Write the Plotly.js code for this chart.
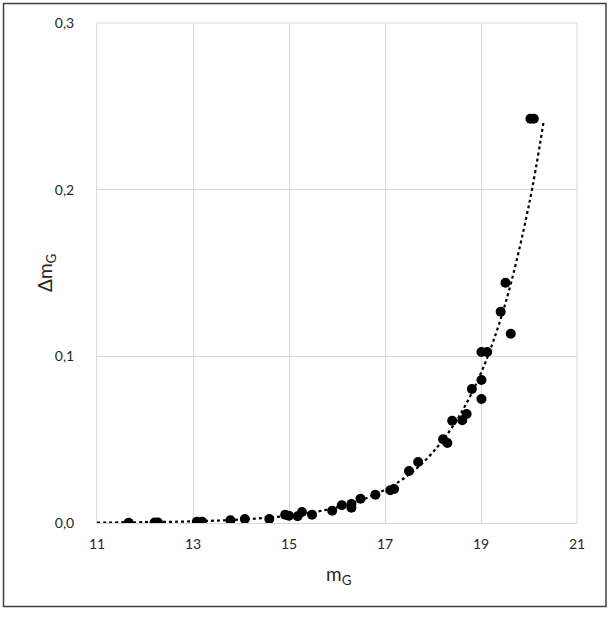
<!DOCTYPE html>
<html>
<head>
<meta charset="utf-8">
<script src="https://cdn.plot.ly/plotly-3.0.1.min.js"></script>
<style>html,body{margin:0;padding:0;background:#fff;}#chart{width:612px;height:617px;}</style>
</head>
<body>
<div id="chart"></div>
<script>
// Observed points (m_G, Δm_G)
const mG = [11.66, 12.2, 12.27, 13.08, 13.19, 13.78, 14.08, 14.59, 14.92, 15.0, 15.18, 15.27, 15.48, 15.9, 16.1, 16.3, 16.3, 16.49, 16.8, 17.11, 17.19, 17.5, 17.69, 18.21, 18.3, 18.4, 18.61, 18.7, 18.81, 19.01, 19.01, 19.01, 19.13, 19.41, 19.51, 19.62, 20.03, 20.1];
const dmG = [0.0001, 0.0003, 0.0003, 0.0008, 0.0008, 0.0016, 0.0024, 0.0024, 0.005, 0.0044, 0.004, 0.0066, 0.005, 0.0074, 0.0106, 0.0114, 0.0092, 0.0146, 0.017, 0.0196, 0.0204, 0.0312, 0.0366, 0.0502, 0.048, 0.0614, 0.0616, 0.0654, 0.0804, 0.0858, 0.0744, 0.1026, 0.1026, 0.1268, 0.1442, 0.1136, 0.2425, 0.2425];

// Trend line values
const trendX = [11, 12, 13, 14, 15, 15.5, 16, 16.5, 17, 17.5, 18, 18.5, 19, 19.5, 20, 20.3];
const trendY = [0.0002, 0.0005, 0.001, 0.0021, 0.0044, 0.0064, 0.0094, 0.0137, 0.02, 0.029, 0.0425, 0.062, 0.090, 0.131, 0.191, 0.240];

const xTicks = [11, 13, 15, 17, 19, 21];
const xTickText = ['11', '13', '15', '17', '19', '21'];
const yTicks = [0, 0.1, 0.2, 0.3];
const yTickText = ['0,0', '0,1', '0,2', '0,3'];

const font = 'Lato, "Open Sans", "DejaVu Sans", sans-serif';
const textColor = '#262626';

const traces = [
  {
    x: trendX, y: trendY, type: 'scatter', mode: 'lines',
    line: {color: '#000', width: 2.2, dash: 'dot', shape: 'spline'},
    hoverinfo: 'skip', showlegend: false
  },
  {
    x: mG, y: dmG, type: 'scatter', mode: 'markers',
    marker: {color: '#000', size: 10},
    showlegend: false
  }
];

const L = 97, R = 35, T = 23, B = 94, W = 612, H = 617;
const pw = W - L - R, ph = H - T - B;
function px(xp) { return (xp - L) / pw; }
function py(yp) { return (H - B - yp) / ph; }

const layout = {
  width: W, height: H,
  margin: {l: L, r: R, t: T, b: B, pad: 0},
  paper_bgcolor: '#fff', plot_bgcolor: '#fff',
  font: {family: font, color: textColor, size: 14},
  showlegend: false,
  xaxis: {
    range: [11, 21], tickvals: xTicks, ticktext: xTickText,
    showgrid: true, gridcolor: '#d9d9d9', gridwidth: 1,
    zeroline: false, showline: true, linecolor: '#d9d9d9', linewidth: 1,
    ticks: 'outside', ticklen: 8, tickcolor: 'rgba(0,0,0,0)',
    tickfont: {family: font, size: 14, color: textColor},
    automargin: false, fixedrange: true
  },
  yaxis: {
    range: [0, 0.3], tickvals: yTicks, ticktext: yTickText,
    showgrid: true, gridcolor: '#d9d9d9', gridwidth: 1,
    zeroline: false, showline: true, linecolor: '#d9d9d9', linewidth: 1,
    ticks: 'outside', ticklen: 19, tickcolor: 'rgba(0,0,0,0)',
    tickfont: {family: font, size: 14, color: textColor},
    automargin: false, fixedrange: true
  },
  annotations: [
    {text: 'Δm<sub>G</sub>', xref: 'paper', yref: 'paper',
     x: px(46), y: py(273), xanchor: 'center', yanchor: 'middle',
     textangle: -90, showarrow: false,
     font: {family: font, size: 19, color: textColor}},
    {text: 'm<sub>G</sub>', xref: 'paper', yref: 'paper',
     x: px(338), y: py(575), xanchor: 'center', yanchor: 'middle',
     showarrow: false,
     font: {family: font, size: 19, color: textColor}}
  ],
  shapes: [
    {type: 'rect', xref: 'paper', yref: 'paper',
     x0: px(3.5), x1: px(606), y0: py(606.5), y1: py(3.5),
     line: {color: '#404040', width: 1.5}, fillcolor: 'rgba(0,0,0,0)', layer: 'above'},
    {type: 'line', xref: 'paper', yref: 'paper', x0: 1, x1: 1, y0: 0, y1: 1,
     line: {color: '#d9d9d9', width: 1}, layer: 'below'},
    {type: 'line', xref: 'paper', yref: 'paper', x0: 0, x1: 1, y0: 1, y1: 1,
     line: {color: '#d9d9d9', width: 1}, layer: 'below'}
  ]
};

Plotly.newPlot('chart', traces, layout, {displayModeBar: false, staticPlot: true});
</script>
</body>
</html>
